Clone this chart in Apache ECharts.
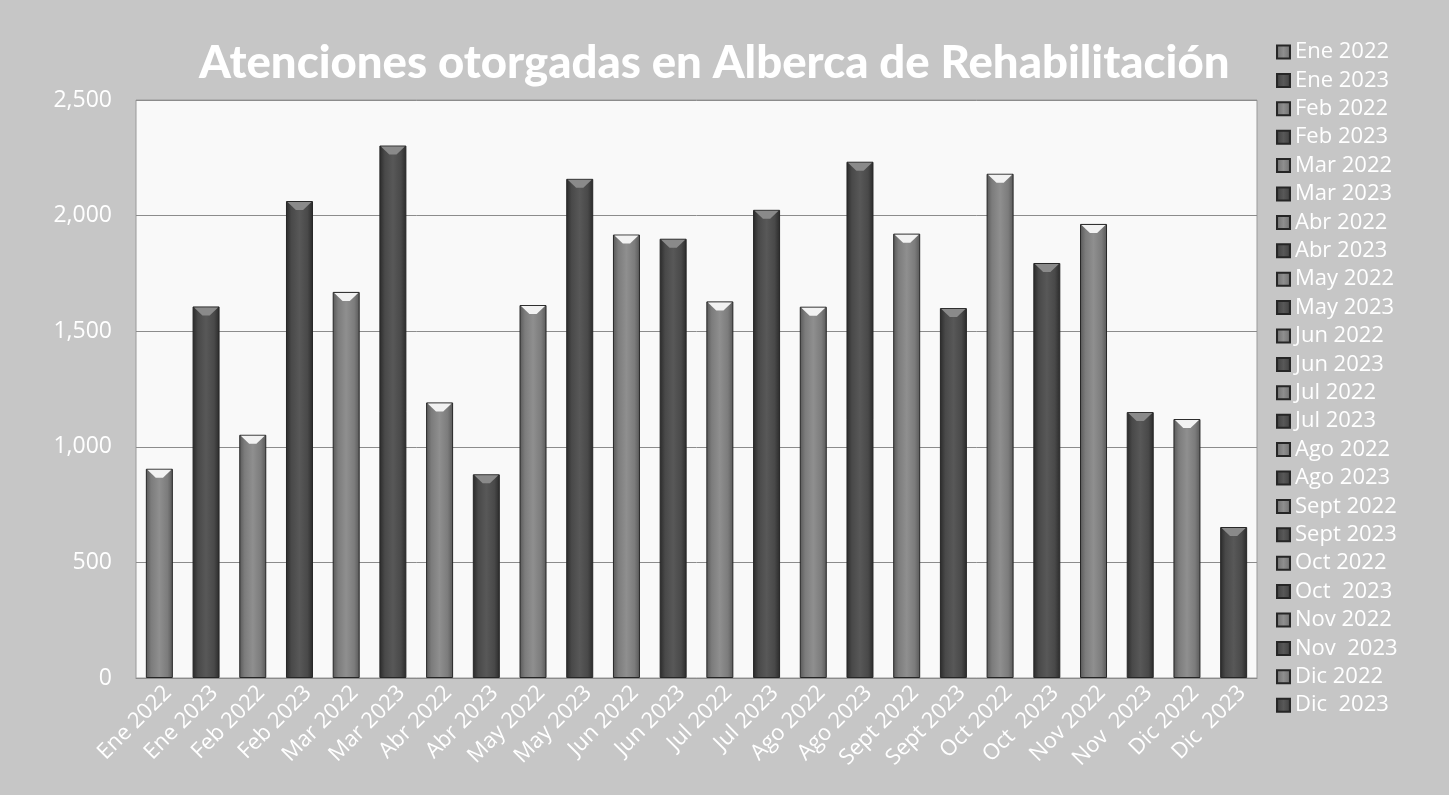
<!DOCTYPE html>
<html>
<head>
<meta charset="utf-8">
<script src="https://cdn.jsdelivr.net/npm/echarts@6/dist/echarts.min.js"></script>
<style>
html,body{margin:0;padding:0;background:#e9e9e9;}
#c{width:1449px;height:795px;}
</style>
</head>
<body>
<div id="c"></div>
<script>
const titleText = 'Atenciones otorgadas en Alberca de Rehabilitación';
const categories = ['Ene 2022','Ene 2023','Feb 2022','Feb 2023','Mar 2022','Mar 2023','Abr 2022','Abr 2023','May 2022','May 2023','Jun 2022','Jun 2023','Jul 2022','Jul 2023','Ago 2022','Ago 2023','Sept 2022','Sept 2023','Oct 2022','Oct  2023','Nov 2022','Nov  2023','Dic 2022','Dic  2023'];
const values = [905,1607,1052,2063,1670,2303,1192,881,1613,2159,1918,1900,1629,2025,1606,2233,1922,1600,2181,1795,1964,1150,1120,653];
const yTicks = {min:0, max:2500, interval:500};

function grad(dark){
  const e = dark ? '#2a2a2a' : '#585858';
  const m = dark ? '#494949' : '#7c7c7c';
  const c = dark ? '#585858' : '#8f8f8f';
  return new echarts.graphic.LinearGradient(0,0,1,0,[
    {offset:0,color:e},{offset:0.2,color:m},{offset:0.5,color:c},{offset:0.8,color:m},{offset:1,color:e}
  ]);
}

const series = categories.map((name,i)=>({
  name: name,
  type:'bar',
  stack:'all',
  barWidth:27,
  data: categories.map((_,j)=> j===i ? values[i] : '-'),
  itemStyle:{color: grad(i%2===1), borderColor:'#262626', borderWidth:1},
  markPoint:{
    silent:true,
    symbol:'path://M0,0 L10,0 L6.5,4 L3.5,4 Z',
    symbolSize:[24,8],
    symbolOffset:[0,5],
    symbolKeepAspect:false,
    label:{show:false},
    itemStyle:{color: i%2===1 ? '#8a8a8a' : '#f2f2f2'},
    data:[{coord:[i, values[i]]}]
  }
}));

const chart = echarts.init(document.getElementById('c'));
chart.setOption({
  backgroundColor:'#c6c6c6',
  animation:false,
  title:{
    text:titleText, left:194, top:35,
    textStyle:{color:'#ffffff', fontFamily:'Lato', fontWeight:900, fontSize:45.5}
  },
  legend:{
    orient:'vertical', left:1271, top:36,
    icon:'rect', itemWidth:13, itemHeight:13, itemGap:6.4,
    textStyle:{color:'#ffffff', fontFamily:'Open Sans', fontSize:22, lineHeight:22},
    data: categories
  },
  grid:{left:136, right:192, top:100, bottom:117, show:true, backgroundColor:'#f9f9f9', borderColor:'#9a9a9a', borderWidth:1},
  xAxis:{
    type:'category', data:categories,
    axisLine:{lineStyle:{color:'#8a8a8a'}},
    axisTick:{show:false},
    axisLabel:{rotate:45, interval:0, color:'#ffffff', fontFamily:'Open Sans', fontSize:22, margin:20, padding:[0,-12,0,0]}
  },
  yAxis:{
    type:'value', min:yTicks.min, max:yTicks.max, interval:yTicks.interval,
    axisLine:{show:false}, axisTick:{show:false},
    splitLine:{lineStyle:{color:'#8c8c8c', width:1}},
    axisLabel:{color:'#ffffff', fontFamily:'Open Sans', fontSize:23, margin:24,
      formatter:v=>v.toLocaleString('en-US')}
  },
  series: series
});
</script>
</body>
</html>
